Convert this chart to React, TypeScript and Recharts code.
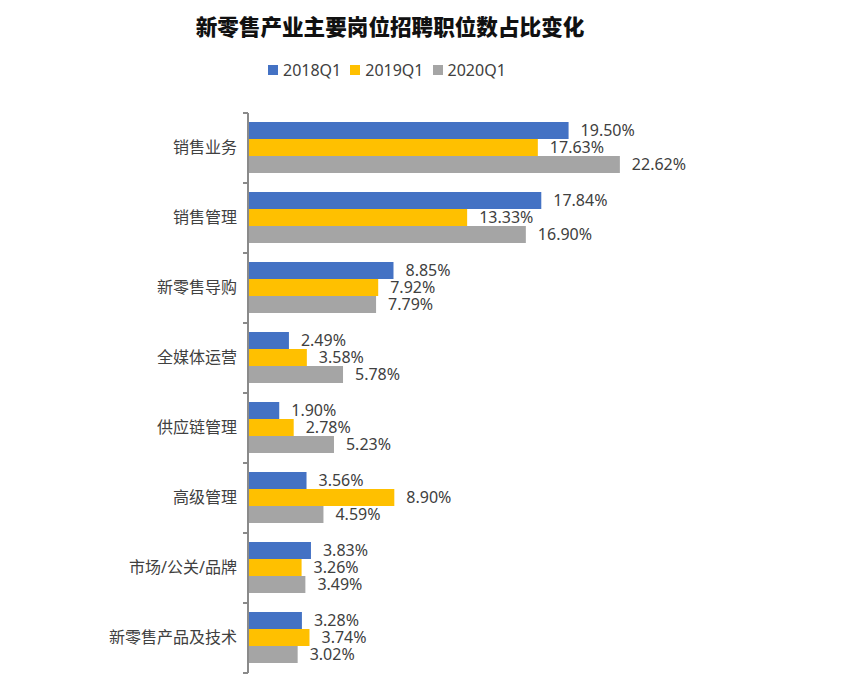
import React from 'react';
import { BarChart, Bar, XAxis, YAxis, LabelList } from 'recharts';

// job categories, top to bottom
const categories = ['销售业务', '销售管理', '新零售导购', '全媒体运营', '供应链管理', '高级管理', '市场/公关/品牌', '新零售产品及技术'];

// share of postings (%)
const q2018 = [19.5, 17.84, 8.85, 2.49, 1.9, 3.56, 3.83, 3.28];
const q2019 = [17.63, 13.33, 7.92, 3.58, 2.78, 8.9, 3.26, 3.74];
const q2020 = [22.62, 16.9, 7.79, 5.78, 5.23, 4.59, 3.49, 3.02];

const seriesNames = ['2018Q1', '2019Q1', '2020Q1'];
const colors = ['#4472C4', '#FFC000', '#A5A5A5'];

const data = categories.map((name, i) => ({
  name,
  '2018Q1': q2018[i],
  '2019Q1': q2019[i],
  '2020Q1': q2020[i],
}));

const FONT = "'Noto Sans', 'Noto Sans CJK SC', sans-serif";
const TEXT = '#404040';
const AXIS = '#8a8a8a';

const W = 857;
const H = 687;
const MARGIN = { top: 113, right: 198, bottom: 14, left: 0 };
const BAND = (H - MARGIN.top - MARGIN.bottom) / categories.length;
const TICK_MARGIN = 11;
const TICK_LEN = 5;

// category label + boundary tick marks (ticks sit between categories, not at centers)
const CategoryTick = (props: any) => {
  const { x, y, payload, index } = props;
  const axisX = x + TICK_MARGIN;
  return (
    <g>
      <text x={x} y={y} dy={5} textAnchor="end" fill={TEXT} fontSize={16} fontFamily={FONT}>
        {payload.value}
      </text>
      <line x1={axisX - TICK_LEN} x2={axisX} y1={y - BAND / 2} y2={y - BAND / 2} stroke={AXIS} strokeWidth={2} />
      {index === categories.length - 1 && (
        <line x1={axisX - TICK_LEN} x2={axisX} y1={y + BAND / 2} y2={y + BAND / 2} stroke={AXIS} strokeWidth={2} />
      )}
    </g>
  );
};

const fmt = (v: any) => `${Number(v).toFixed(2)}%`;

export default function App() {
  return (
    <div style={{ position: 'absolute', left: 0, top: 0, width: W, height: H, background: '#fff', fontFamily: FONT }}>
      <div
        style={{
          position: 'absolute',
          top: 11,
          left: 190,
          width: 400,
          textAlign: 'center',
          fontSize: 21.6,
          fontWeight: 900,
          color: '#111',
          fontFamily: "'Noto Sans CJK SC', sans-serif",
          whiteSpace: 'nowrap',
          lineHeight: '30px',
        }}
      >
        新零售产业主要岗位招聘职位数占比变化
      </div>
      <div style={{ position: 'absolute', top: 58, left: 268, display: 'flex', alignItems: 'center', height: 24 }}>
        {seriesNames.map((s, i) => (
          <div key={s} style={{ display: 'flex', alignItems: 'center', marginRight: 9 }}>
            <span style={{ width: 10, height: 10, background: colors[i], display: 'inline-block', marginRight: 5 }} />
            <span style={{ fontSize: 16, color: TEXT }}>{s}</span>
          </div>
        ))}
      </div>
      <BarChart
        width={W}
        height={H}
        data={data}
        layout="vertical"
        margin={MARGIN}
        barCategoryGap={9}
        barGap={0}
      >
        <XAxis type="number" domain={[0, 25]} hide />
        <YAxis
          type="category"
          dataKey="name"
          width={248}
          tickLine={false}
          tickSize={0}
          tickMargin={TICK_MARGIN}
          axisLine={{ stroke: AXIS, strokeWidth: 2 }}
          tick={<CategoryTick />}
          interval={0}
        />
        {seriesNames.map((s, i) => (
          <Bar key={s} dataKey={s} fill={colors[i]} isAnimationActive={false}>
            <LabelList
              dataKey={s}
              position="right"
              offset={12}
              formatter={fmt}
              fill={TEXT}
              fontSize={16}
              fontFamily={FONT}
            />
          </Bar>
        ))}
      </BarChart>
    </div>
  );
}
